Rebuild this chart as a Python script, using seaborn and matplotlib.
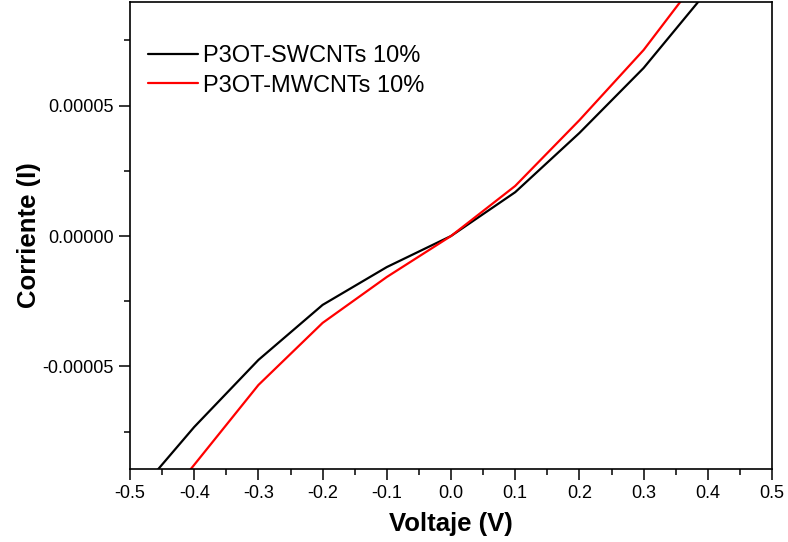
import numpy as np
import pandas as pd
import matplotlib
matplotlib.use("Agg")
import matplotlib.pyplot as plt
import seaborn as sns
from matplotlib.ticker import MultipleLocator, FormatStrFormatter

# Data
voltage = [-0.5, -0.4, -0.3, -0.2, -0.1, 0.0, 0.1, 0.2, 0.3, 0.4, 0.5]
swcnt_current = [-1.02e-4, -7.32e-5, -4.75e-5, -2.64e-5, -1.19e-5, 0.0,
                 1.68e-5, 3.95e-5, 6.44e-5, 9.42e-5, 1.25e-4]
mwcnt_current = [-1.18e-4, -8.77e-5, -5.71e-5, -3.33e-5, -1.57e-5, 0.0,
                 1.92e-5, 4.44e-5, 7.13e-5, 1.036e-4, 1.38e-4]
series_names = ["P3OT-SWCNTs 10%", "P3OT-MWCNTs 10%"]
series_colors = ["black", "red"]

df = pd.concat([
    pd.DataFrame({"Voltaje": voltage, "Corriente": swcnt_current, "Muestra": series_names[0]}),
    pd.DataFrame({"Voltaje": voltage, "Corriente": mwcnt_current, "Muestra": series_names[1]}),
])

sns.set_style("ticks")
plt.rcParams["font.family"] = ["Liberation Sans", "DejaVu Sans"]
plt.rcParams["text.color"] = "black"
plt.rcParams["axes.labelcolor"] = "black"

fig = plt.figure(figsize=(7.88, 5.42), dpi=100)
ax = fig.add_axes([0.165, 0.1347, 0.8147, 0.8616])

sns.lineplot(data=df, x="Voltaje", y="Corriente", hue="Muestra",
             palette=dict(zip(series_names, series_colors)), linewidth=1.6,
             ax=ax, sort=False)

ax.set_xlim(-0.5, 0.5)
ax.set_ylim(-8.93e-5, 8.97e-5)

ax.xaxis.set_major_locator(MultipleLocator(0.1))
ax.xaxis.set_minor_locator(MultipleLocator(0.05))
ax.yaxis.set_major_locator(MultipleLocator(5e-5))
ax.yaxis.set_minor_locator(MultipleLocator(2.5e-5))
ax.xaxis.set_major_formatter(FormatStrFormatter("%.1f"))
ax.yaxis.set_major_formatter(FormatStrFormatter("%.5f"))

ax.tick_params(which="major", direction="out", length=8, width=1.1,
               labelsize=13, colors="black", top=False, right=False)
ax.tick_params(which="minor", direction="out", length=4.5, width=1.1,
               colors="black", top=False, right=False)
for s in ax.spines.values():
    s.set_linewidth(1.2)
    s.set_color("black")
    s.set_visible(True)

ax.set_xlabel("Voltaje (V)", fontsize=18.5, fontweight="bold", labelpad=7)
ax.set_ylabel("Corriente (I)", fontsize=18.5, fontweight="bold", labelpad=1)

ax.legend(loc="upper left", bbox_to_anchor=(0.028, 0.907), frameon=False,
          fontsize=17, handlelength=2.1, handletextpad=0.25, borderpad=0,
          borderaxespad=0, labelspacing=0.31)

fig.savefig("out.png", dpi=100)
